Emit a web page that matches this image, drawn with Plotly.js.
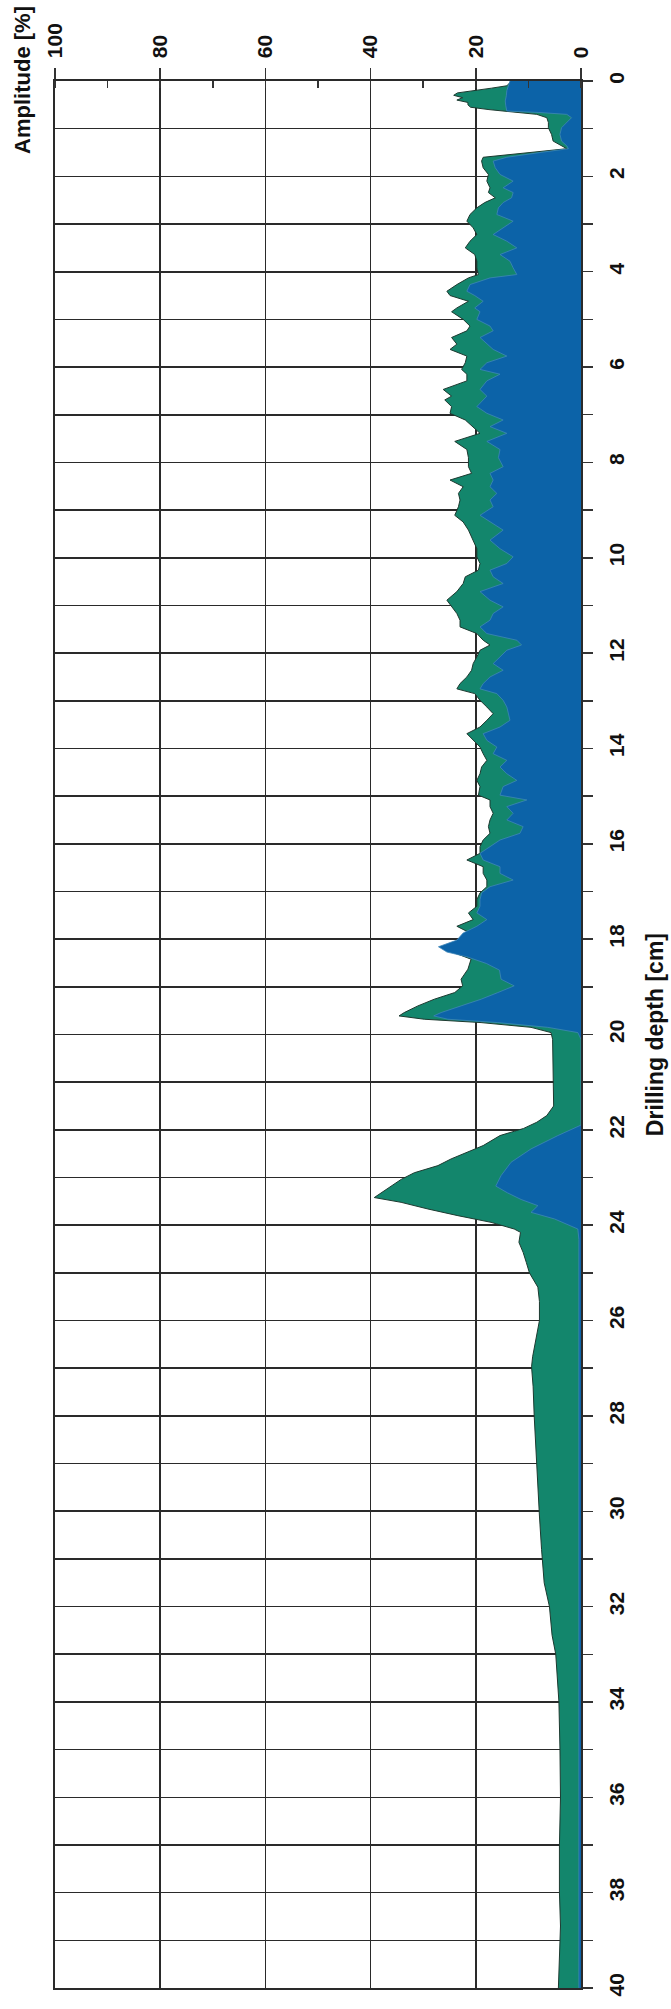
<!DOCTYPE html>
<html>
<head>
<meta charset="utf-8">
<script src="https://cdn.plot.ly/plotly-3.0.1.min.js"></script>
<style>
  html, body { margin: 0; padding: 0; background: #ffffff; }
  #chart { width: 671px; height: 2009px; }
</style>
</head>
<body>
<div id="chart"></div>
<script>
// Drilling depth [cm] for the green (total) series
const depthGreen = [
  0, 0.1, 0.15, 0.2, 0.25, 0.3, 0.35, 0.4, 0.45, 0.5, 0.55, 0.6, 0.65, 0.7, 0.77, 0.87, 0.98, 1.12, 1.26, 1.36, 1.42,
  1.5, 1.6, 1.68, 1.82, 1.96, 2.1, 2.24, 2.34, 2.45, 2.55, 2.66, 2.8, 2.94, 3.08, 3.22, 3.36, 3.5, 3.64, 3.78, 3.92,
  4.06, 4.13, 4.27, 4.41, 4.5, 4.62, 4.76, 4.84, 5.0, 5.14, 5.24, 5.38, 5.52, 5.63, 5.77, 5.91, 6.05, 6.15, 6.29,
  6.47, 6.61, 6.69, 6.83, 6.97, 7.11, 7.25, 7.39, 7.56, 7.73, 7.9, 8.09, 8.23, 8.37, 8.51, 8.65, 8.79, 8.93, 9.11,
  9.25, 9.42, 9.63, 9.81, 9.98, 10.12, 10.26, 10.4, 10.54, 10.71, 10.89, 11.03, 11.17, 11.31, 11.45, 11.59, 11.73,
  11.83, 11.94, 12.08, 12.22, 12.36, 12.5, 12.64, 12.75, 12.85, 12.99, 13.13, 13.27, 13.41, 13.55, 13.69, 13.83,
  13.97, 14.11, 14.25, 14.39, 14.53, 14.67, 14.8, 14.98, 15.08, 15.22, 15.36, 15.5, 15.64, 15.78, 15.92, 16.06,
  16.2, 16.34, 16.48, 16.62, 16.76, 16.9, 17.03, 17.17, 17.31, 17.45, 17.59, 17.73, 17.87, 18.02, 18.16, 18.27,
  18.42, 18.63, 18.84, 18.98, 19.12, 19.26, 19.4, 19.54, 19.61, 19.68, 19.75, 19.85, 19.96, 20.1, 21.5, 21.7,
  21.84, 21.97, 22.12, 22.33, 22.47, 22.61, 22.75, 22.9, 23.04, 23.18, 23.32, 23.42, 23.52, 23.66, 23.8, 23.94,
  24.08, 24.15, 24.36, 24.57, 24.78, 25.0, 25.3, 25.6, 26.0, 26.4, 26.76, 26.97, 27.39, 28, 28.7, 29.4, 30.1,
  30.8, 31.5, 32, 32.6, 33, 34, 35, 36, 37, 38, 38.7, 39.6, 40
];
// Amplitude [%] of the green series
const ampGreen = [
  13.2, 14.1, 17, 20.8, 23.5, 24.2, 22.5, 23.6, 21.5, 21.5, 21, 17.5, 13, 8.4, 6.5, 6.2, 6.2, 5.6, 5.3, 3.7, 2.7,
  9.7, 18.6, 18.9, 18.6, 17.6, 17.9, 17.3, 17.6, 16.3, 18.3, 19.8, 21.1, 21.7, 20.5, 19.8, 21.1, 22, 20.2, 19.8, 19.8,
  19.5, 21.4, 23.6, 25.5, 24.9, 21.4, 23.6, 24.6, 22.4, 21.1, 21.7, 24.6, 23.6, 24.9, 21.7, 22, 22.7, 21.7, 21.7,
  26.2, 24.6, 25.9, 24.6, 24.9, 22, 20.5, 19.2, 24, 21.7, 21.4, 21.4, 20.8, 24.9, 22.4, 23.3, 23, 23.3, 24,
  22.4, 21.4, 20.5, 19.8, 19.8, 19.2, 19.5, 22, 22.4, 23.6, 25.5, 24.6, 23.6, 23, 23, 19.8, 18.6,
  17.3, 19.2, 19.8, 20.5, 20.8, 21.7, 23, 23.6, 20.2, 19.2, 17.9, 16.7, 17.9, 19.2, 21.7, 20.5,
  19.2, 18.6, 17.9, 18.9, 19.2, 19.8, 19.2, 19.5, 17.3, 17.3, 16.7, 17.3, 17.6, 17.3, 18.6, 19.2,
  19.2, 21.7, 18.6, 18.6, 17.9, 17.9, 19.2, 19.8, 19.8, 21.4, 20.5, 23.6, 21.1, 22, 25.5, 24.5,
  20.9, 21.5, 22.8, 22.5, 24, 27.9, 31, 33.6, 34.6, 29.8, 19, 9.5, 5.7, 5.4, 5.2, 6.5,
  8.4, 10.9, 15.4, 18.6, 21.7, 24.7, 27.2, 31.7, 34.2, 36.1, 38, 39.3, 34.2, 29.1, 23.4, 17.1,
  12.7, 11.5, 11.8, 11, 10.4, 9.8, 8.2, 7.9, 7.9, 8.6, 9.2, 9.4, 9.1, 8.9, 8.6, 8.2, 7.9,
  7.5, 7, 6, 5.5, 4.8, 4.2, 4, 3.9, 4.1, 4.1, 3.9, 4.1, 4.3
];
// Drilling depth [cm] for the blue series
const depthBlue = [
  0, 0.1, 0.2, 0.31, 0.42, 0.52, 0.63, 0.66, 0.7, 0.77, 0.87, 0.98, 1.12, 1.26, 1.36, 1.42,
  1.5, 1.6, 1.68, 1.82, 1.96, 2.1, 2.24, 2.34, 2.45, 2.55, 2.66, 2.8, 2.94, 3.08, 3.22, 3.36, 3.5, 3.64, 3.78, 3.92,
  4.06, 4.13, 4.27, 4.41, 4.5, 4.62, 4.76, 4.84, 5.0, 5.14, 5.24, 5.38, 5.52, 5.63, 5.77, 5.91, 6.05, 6.15, 6.29,
  6.47, 6.61, 6.69, 6.83, 6.97, 7.11, 7.25, 7.39, 7.56, 7.73, 7.9, 8.09, 8.23, 8.37, 8.51, 8.65, 8.79, 8.93, 9.11,
  9.25, 9.42, 9.63, 9.81, 9.98, 10.12, 10.26, 10.4, 10.54, 10.71, 10.89, 11.03, 11.17, 11.31, 11.45, 11.59, 11.73,
  11.83, 11.94, 12.08, 12.22, 12.36, 12.5, 12.64, 12.75, 12.85, 12.99, 13.13, 13.27, 13.41, 13.55, 13.69, 13.83,
  13.97, 14.11, 14.25, 14.39, 14.53, 14.67, 14.8, 14.98, 15.08, 15.22, 15.36, 15.5, 15.64, 15.78, 15.92, 16.06,
  16.2, 16.34, 16.48, 16.62, 16.76, 16.9, 17.03, 17.17, 17.31, 17.45, 17.59, 17.73, 17.87, 18.02, 18.16, 18.27,
  18.37, 18.51, 18.65, 18.84, 18.98, 19.12, 19.26, 19.4, 19.54, 19.61, 19.68, 19.75, 19.85, 19.96, 20.1,
  21.9, 22.12, 22.4, 22.68, 22.96, 23.18, 23.32, 23.46, 23.59, 23.73, 23.87, 24.08, 24.3, 40
];
// Amplitude [%] of the blue series
const ampBlue = [
  13.5, 13.8, 14.1, 14.2, 14.4, 14.3, 14.1, 8, 2.7, 1.8, 2.7, 3.7, 4, 3.7, 2.7, 2.4,
  7.8, 14.1, 16.7, 16.3, 15.4, 12.9, 14.8, 12.9, 13.2, 14.8, 15.7, 16, 12.9, 14.8, 16.7, 14.1, 12.2, 15.4, 13.5, 12.9,
  12.2, 17.3, 21.1, 21.7, 20.2, 18.6, 20.2, 19.2, 19.8, 17.3, 16.7, 19.2, 17.9, 16.7, 14.1, 17.9, 19.2, 15.4, 17.9,
  19.2, 17.9, 18.6, 19.8, 17.9, 14.8, 17.3, 14.1, 17.9, 15.4, 15.7, 14.8, 17.3, 16.7, 17.3, 16, 17.3, 16.7, 19.2,
  17.3, 14.8, 17.3, 15.4, 12.9, 14.1, 17.3, 16.7, 14.8, 19.2, 17.3, 14.8, 16.7, 17.3, 19.2, 17.9, 12.2,
  11.3, 14.1, 15.4, 16.7, 14.8, 17.3, 18.6, 19.2, 16, 14.8, 14.1, 13.8, 13.5, 15.4, 18.6, 17.9,
  16, 16.7, 14.1, 15.4, 14.1, 12.2, 14.8, 15.4, 10.3, 14.1, 12.9, 14.1, 11, 11.6, 15.4, 17.3,
  19.2, 18.6, 15.4, 15.4, 12.9, 17.3, 18.9, 19.2, 19.2, 19.8, 17.9, 19.8, 22.4, 23.6, 27.1, 25.5,
  21.7, 18, 15.5, 15.2, 12.7, 15.8, 19, 22.8, 26.6, 28, 25.3, 15.8, 6.3, 0.6, 0,
  0, 4.4, 9.5, 13.3, 15.2, 16.2, 14, 11.4, 8.2, 9.5, 5, 0.6, 0.4, 0.4
];
const amplitudeTicks = [0, 20, 40, 60, 80, 100];
const depthTicks = [0, 2, 4, 6, 8, 10, 12, 14, 16, 18, 20, 22, 24, 26, 28, 30, 32, 34, 36, 38, 40];

const tickFont = { family: 'Liberation Sans, Arial, sans-serif', size: 21, color: '#111111', weight: 'bold' };

const traces = [
  {
    type: 'scatter', mode: 'lines', x: ampGreen, y: depthGreen,
    fill: 'tozerox', fillcolor: '#13866c',
    line: { color: '#1d3a30', width: 1 },
    hoverinfo: 'skip', showlegend: false
  },
  {
    type: 'scatter', mode: 'lines', x: ampBlue, y: depthBlue,
    fill: 'tozerox', fillcolor: '#0c63a8',
    line: { color: '#3f86b9', width: 0.8 },
    hoverinfo: 'skip', showlegend: false
  }
];

const layout = {
  width: 671, height: 2009,
  margin: { l: 55, r: 90, t: 81, b: 21, pad: 0 },
  paper_bgcolor: '#ffffff', plot_bgcolor: '#ffffff',
  showlegend: false,
  xaxis: {
    range: [100, 0], side: 'top',
    tickvals: amplitudeTicks, ticktext: amplitudeTicks.map(String),
    tickangle: -90, tickfont: tickFont,
    ticks: 'outside', ticklen: 11, tickwidth: 1.5, tickcolor: '#333333',
    ticklabelstandoff: 6,
    showgrid: true, gridcolor: '#2a2a2a', gridwidth: 1.6,
    zeroline: false,
    showline: true, linecolor: '#2a2a2a', linewidth: 1.6, mirror: true,
    minor: { dtick: 10, tick0: 0, ticks: 'inside', ticklen: 7, tickwidth: 1.5, tickcolor: '#333333', showgrid: false },
    fixedrange: true
  },
  yaxis: {
    range: [40, 0], side: 'right',
    tickvals: depthTicks, ticktext: depthTicks.map(String),
    tickangle: -90, tickfont: tickFont,
    ticks: 'outside', ticklen: 10, tickwidth: 1.5, tickcolor: '#333333',
    ticklabelstandoff: 6,
    showgrid: true, gridcolor: '#2a2a2a', gridwidth: 1.6,
    zeroline: false,
    showline: true, linecolor: '#2a2a2a', linewidth: 1.6, mirror: true,
    minor: { dtick: 1, tick0: 0, ticks: 'outside', ticklen: 10, tickwidth: 1.5, tickcolor: '#333333', showgrid: true, gridcolor: '#2a2a2a', gridwidth: 1.6 },
    fixedrange: true
  },
  annotations: [
    {
      text: 'Amplitude [%]', textangle: -90, showarrow: false,
      xref: 'paper', yref: 'paper', x: -0.063, y: 1.0005,
      xanchor: 'center', yanchor: 'middle',
      font: { family: 'Liberation Sans, Arial, sans-serif', size: 22, color: '#111111', weight: 'bold' }
    },
    {
      text: 'Drilling depth [cm]', textangle: -90, showarrow: false,
      xref: 'paper', yref: 'paper', x: 1.14, y: 0.5,
      xanchor: 'center', yanchor: 'middle',
      font: { family: 'Liberation Sans, Arial, sans-serif', size: 23, color: '#111111', weight: 'bold' }
    }
  ]
};

Plotly.newPlot('chart', traces, layout, { displayModeBar: false, staticPlot: true });
</script>
</body>
</html>
